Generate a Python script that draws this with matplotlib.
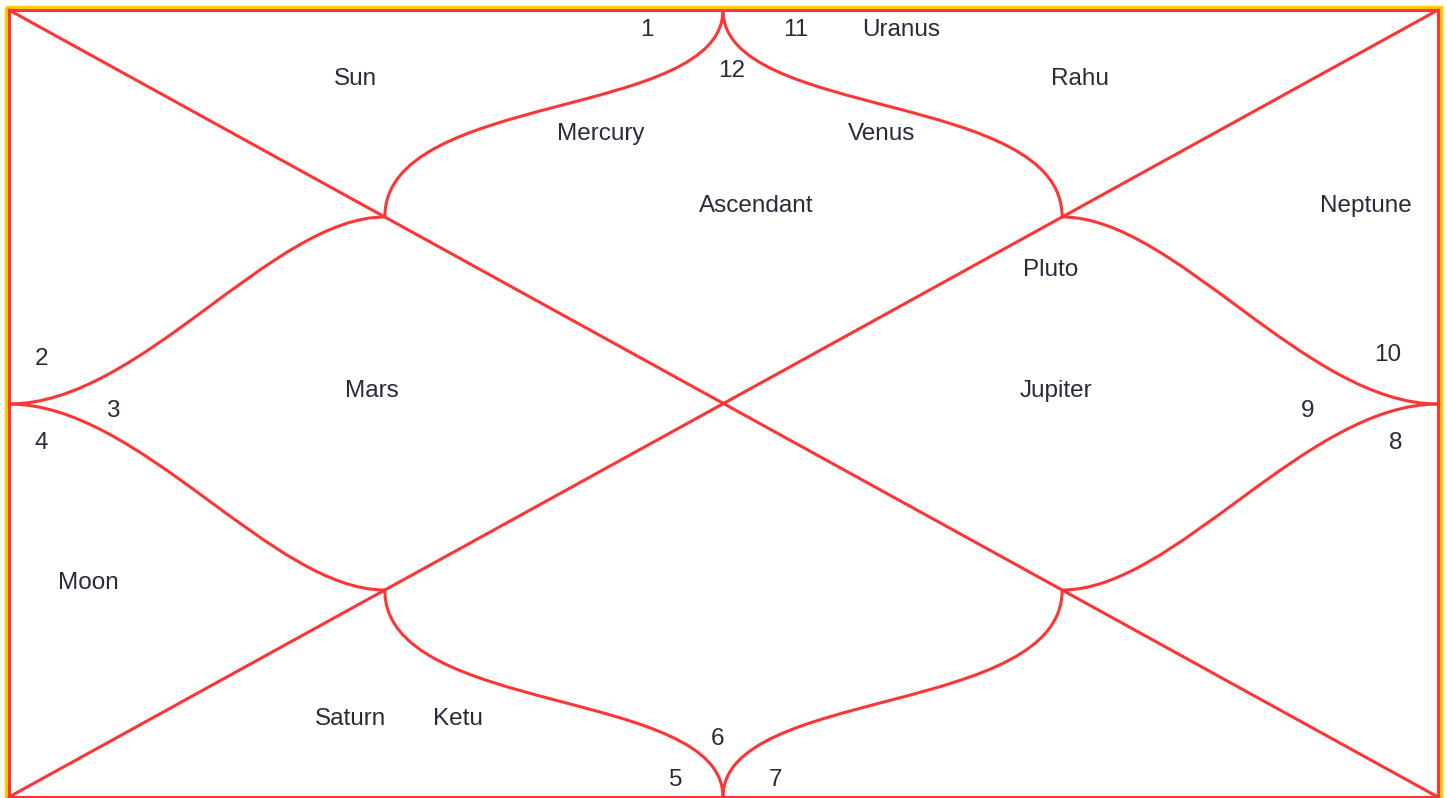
import matplotlib.pyplot as plt
from matplotlib.path import Path
from matplotlib.patches import PathPatch, Rectangle

# house numbers and planets, with label positions in chart pixel coords
house_numbers = ["1", "11", "12", "2", "10", "3", "9", "4", "8", "6", "5", "7"]
house_xy = [(647, 28), (796, 28), (732, 69), (41, 357), (1388, 353), (113, 409),
            (1308, 409), (41, 441), (1396, 441), (717, 737), (676, 778), (776, 778)]

planets = ["Uranus", "Sun", "Rahu", "Mercury", "Venus", "Ascendant", "Neptune",
           "Pluto", "Mars", "Jupiter", "Moon", "Saturn", "Ketu"]
planet_xy = [(901, 28), (355, 77), (1080, 77), (601, 132), (882, 132), (756, 204),
             (1366, 204), (1051, 268), (372, 389), (1056, 389), (88, 581),
             (351, 717), (458, 717)]

W, H = 1447, 798
left, right, top, bottom = 9, 1438, 10, 797
cx, cy = 723, 404
frac = 0.263  # where the inner curves meet the diagonals

red = "#ff3535"
text_color = "#2a2a3a"
lw = 2.2

fig = plt.figure(figsize=(W / 100, H / 100), dpi=100)
ax = fig.add_axes([0, 0, 1, 1])
ax.set_xlim(0, W)
ax.set_ylim(H, 0)
ax.axis("off")

# frame
ax.add_patch(Rectangle((left - 3, top - 3), right - left + 6, bottom - top + 6,
                       fill=False, edgecolor="#ffc800", lw=2.5))
ax.add_patch(Rectangle((left, top), right - left, bottom - top,
                       fill=False, edgecolor=red, lw=lw))

# diagonals
ax.plot([left, right], [top, bottom], color=red, lw=lw, solid_capstyle="round")
ax.plot([left, right], [bottom, top], color=red, lw=lw, solid_capstyle="round")

dx = (right - left) * frac
dy = (bottom - top) * frac
pts = {
    "tl": (left + dx, top + dy), "tr": (right - dx, top + dy),
    "bl": (left + dx, bottom - dy), "br": (right - dx, bottom - dy),
}


def bezier(p0, p1, p2, p3):
    path = Path([p0, p1, p2, p3], [Path.MOVETO, Path.CURVE4, Path.CURVE4, Path.CURVE4])
    ax.add_patch(PathPatch(path, fill=False, edgecolor=red, lw=lw))


# top / bottom curves (vertical tangents)
for key in ["tl", "tr"]:
    x, y = pts[key]
    h = y - top
    bezier((cx, top), (cx, top + 0.53 * h), (x, y - 0.61 * h), (x, y))
for key in ["bl", "br"]:
    x, y = pts[key]
    h = bottom - y
    bezier((cx, bottom), (cx, bottom - 0.53 * h), (x, y + 0.61 * h), (x, y))

# side curves (horizontal tangents)
for key, ex in [("tl", left), ("bl", left), ("tr", right), ("br", right)]:
    x, y = pts[key]
    w = x - ex
    bezier((ex, cy), (ex + 0.35 * w, cy), (x - 0.3 * w, y), (x, y))

font = dict(family="Liberation Sans", fontsize=17.5, color=text_color,
            ha="center", va="center")
for label, (x, y) in zip(house_numbers, house_xy):
    ax.text(x, y + 2, label, **font)
for label, (x, y) in zip(planets, planet_xy):
    ax.text(x, y + 2, label, **font)

fig.savefig("out.png", dpi=100, facecolor="white")
